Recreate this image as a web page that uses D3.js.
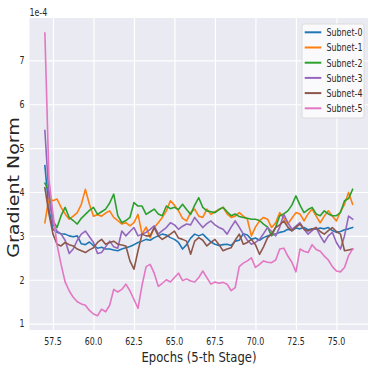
<!DOCTYPE html>
<html>
<head>
<meta charset="utf-8">
<script src="https://cdn.jsdelivr.net/npm/d3@7"></script>
<style>
  body { margin: 0; background: #fff; }
  text { font-family: "DejaVu Sans", sans-serif; fill: #262626; }
</style>
</head>
<body>
<script>
var W = 374, H = 374
var BG = '#eaeaf2'
var COLORS = ['#1f77b4', '#ff7f0e', '#2ca02c', '#9467bd', '#8c564b', '#e377c2']

var names = ['Subnet-0', 'Subnet-1', 'Subnet-2', 'Subnet-3', 'Subnet-4', 'Subnet-5']
var xTicks = [57.5, 60.0, 62.5, 65.0, 67.5, 70.0, 72.5, 75.0]
var yTicks = [1, 2, 3, 4, 5, 6, 7]

// epochs, one sample every quarter epoch
var epochs = [
  57.00, 57.25, 57.50, 57.75, 58.00, 58.25, 58.50, 58.75, 59.00, 59.25, 59.50, 59.75,
  60.00, 60.25, 60.50, 60.75, 61.00, 61.25, 61.50, 61.75, 62.00, 62.25, 62.50, 62.75,
  63.00, 63.25, 63.50, 63.75, 64.00, 64.25, 64.50, 64.75, 65.00, 65.25, 65.50, 65.75,
  66.00, 66.25, 66.50, 66.75, 67.00, 67.25, 67.50, 67.75, 68.00, 68.25, 68.50, 68.75,
  69.00, 69.25, 69.50, 69.75, 70.00, 70.25, 70.50, 70.75, 71.00, 71.25, 71.50, 71.75,
  72.00, 72.25, 72.50, 72.75, 73.00, 73.25, 73.50, 73.75, 74.00, 74.25, 74.50, 74.75,
  75.00, 75.25, 75.50, 75.75, 76.00
]

// gradient norm, in units of 1e-4
var subnet0 = [
  4.60, 3.60, 3.15, 3.08, 3.05, 3.04, 3.00, 2.98, 3.00, 2.82, 2.80, 2.86,
  2.78, 2.72, 2.74, 2.70, 2.70, 2.68, 2.66, 2.70, 2.73, 2.76, 2.80, 2.85,
  2.88, 2.92, 2.90, 2.96, 3.00, 3.04, 3.02, 2.96, 2.92, 2.85, 2.70, 2.80,
  2.95, 3.04, 3.00, 3.04, 2.95, 2.86, 2.81, 2.78, 2.80, 2.81, 2.78, 2.88,
  2.90, 3.05, 3.02, 2.92, 2.95, 2.90, 2.96, 3.00, 3.02, 3.04, 3.08, 3.10,
  3.15, 3.12, 3.18, 3.16, 3.19, 3.14, 3.16, 3.15, 3.18, 3.16, 3.19, 3.12,
  3.08, 3.10, 3.14, 3.16, 3.19
]
var subnet1 = [
  3.30, 3.87, 3.80, 3.84, 3.65, 3.50, 3.38, 3.45, 3.53, 3.72, 4.06, 3.72,
  3.45, 3.48, 3.45, 3.52, 3.57, 3.42, 3.35, 3.27, 3.30, 3.23, 3.30, 3.49,
  3.04, 3.20, 2.96, 3.19, 3.30, 3.42, 3.57, 3.80, 3.70, 3.57, 3.40, 3.34,
  3.53, 3.61, 3.45, 3.42, 3.61, 3.49, 3.55, 3.60, 3.65, 3.50, 3.42, 3.45,
  3.53, 3.45, 3.38, 3.00, 3.20, 3.34, 3.42, 3.38, 3.19, 3.30, 3.53, 3.40,
  3.27, 3.40, 3.53, 3.50, 3.34, 3.50, 3.61, 3.45, 3.30, 3.45, 3.57, 3.45,
  3.34, 3.55, 3.72, 3.99, 3.72
]
var subnet2 = [
  4.20, 4.02, 3.34, 3.19, 3.46, 3.65, 3.42, 3.35, 3.27, 3.40, 3.49, 3.58,
  3.65, 3.49, 3.55, 3.61, 3.75, 3.95, 3.46, 3.30, 3.35, 3.42, 3.76, 3.68,
  3.68, 3.49, 3.55, 3.61, 3.50, 3.46, 3.68, 3.62, 3.65, 3.60, 3.72, 3.60,
  3.49, 3.70, 3.87, 3.65, 3.57, 3.55, 3.53, 3.60, 3.65, 3.55, 3.46, 3.50,
  3.44, 3.42, 3.40, 3.38, 3.38, 3.35, 3.27, 3.20, 3.00, 3.20, 3.46, 3.50,
  3.57, 3.70, 3.91, 3.70, 3.53, 3.60, 3.65, 3.50, 3.46, 3.57, 3.50, 3.46,
  3.46, 3.53, 3.80, 3.85, 4.06
]
var subnet3 = [
  5.40, 3.90, 3.27, 3.11, 3.04, 2.90, 2.60, 2.70, 2.90, 3.04, 3.11, 2.98,
  2.85, 2.60, 2.62, 2.75, 2.88, 2.75, 2.72, 3.11, 3.00, 3.10, 3.19, 3.00,
  3.04, 3.08, 3.15, 3.23, 3.04, 3.12, 3.19, 3.30, 3.25, 3.15, 3.22, 3.27,
  3.25, 3.42, 3.30, 3.19, 3.28, 3.34, 3.25, 3.19, 3.15, 3.04, 3.20, 3.34,
  3.20, 3.04, 2.90, 2.81, 2.85, 2.92, 3.05, 3.19, 3.10, 3.00, 3.20, 3.49,
  3.30, 3.15, 3.22, 3.30, 3.15, 3.04, 3.12, 3.19, 3.00, 2.85, 3.00, 3.08,
  2.85, 2.70, 3.00, 3.45, 3.38
]
var subnet4 = [
  4.10, 3.50, 3.04, 2.81, 2.77, 2.85, 2.80, 2.77, 2.70, 2.66, 2.62, 2.68,
  2.73, 2.85, 2.92, 2.81, 2.85, 2.88, 2.81, 2.79, 2.77, 2.43, 2.24, 2.66,
  3.04, 3.00, 3.00, 3.19, 3.00, 2.92, 2.98, 3.04, 3.11, 2.95, 2.92, 2.88,
  2.58, 2.88, 2.96, 2.90, 2.77, 2.85, 2.92, 2.80, 2.66, 2.70, 2.73, 2.90,
  3.04, 2.81, 2.85, 2.92, 2.80, 2.58, 2.75, 2.96, 3.05, 3.19, 3.25, 3.34,
  3.20, 3.11, 3.20, 3.27, 3.15, 3.11, 3.15, 3.19, 3.10, 3.04, 3.12, 3.19,
  3.10, 3.04, 2.66, 2.68, 2.70
]
var subnet5 = [
  7.62, 4.30, 3.50, 2.80, 2.35, 1.95, 1.75, 1.60, 1.50, 1.45, 1.42, 1.30,
  1.22, 1.18, 1.33, 1.27, 1.42, 1.78, 1.72, 1.78, 1.90, 1.75, 1.55, 1.35,
  1.88, 2.30, 2.35, 2.15, 1.85, 1.92, 2.00, 1.95, 2.05, 2.15, 1.98, 2.02,
  1.97, 1.95, 2.05, 2.20, 2.05, 1.90, 1.95, 1.92, 1.94, 1.90, 1.75, 1.82,
  2.30, 2.38, 2.43, 2.50, 2.28, 2.35, 2.43, 2.40, 2.39, 2.45, 2.70, 2.72,
  2.54, 2.40, 2.18, 2.70, 2.65, 2.62, 2.80, 2.69, 2.65, 2.54, 2.45, 2.30,
  2.20, 2.18, 2.28, 2.55, 2.70
]
var series = [subnet0, subnet1, subnet2, subnet3, subnet4, subnet5]

var plot = { left: 29.5, right: 368, top: 18, bottom: 330 }

var svg = d3.select('body').append('svg')
  .attr('width', W)
  .attr('height', H)

var x = d3.scaleLinear().domain([56.05, 76.95]).range([plot.left, plot.right])
var y = d3.scaleLinear().domain([0.855, 7.965]).range([plot.bottom, plot.top])

// the source figure was squeezed sideways, so text is drawn narrow
function narrowText(g, tx, ty, sx, str, size, anchor){
  return g.append('g')
    .attr('transform', 'translate(' + tx + ',' + ty + ') scale(' + sx + ',1)')
    .append('text')
    .attr('font-size', size + 'px')
    .attr('text-anchor', anchor)
    .text(str)
}

svg.append('rect')
  .attr('x', plot.left).attr('y', plot.top)
  .attr('width', plot.right - plot.left)
  .attr('height', plot.bottom - plot.top)
  .attr('fill', BG)

// grid from the axes, labels drawn separately
var gx = svg.append('g')
  .attr('transform', 'translate(0,' + plot.bottom + ')')
  .call(d3.axisBottom(x).tickValues(xTicks).tickSize(-(plot.bottom - plot.top)).tickFormat(''))
var gy = svg.append('g')
  .attr('transform', 'translate(' + plot.left + ',0)')
  .call(d3.axisLeft(y).tickValues(yTicks).tickSize(-(plot.right - plot.left)).tickFormat(''))
;[gx, gy].forEach(function(g){
  g.select('.domain').remove()
  g.selectAll('.tick line').attr('stroke', '#fff').attr('stroke-width', 1.2)
})

xTicks.forEach(function(t){
  narrowText(svg, x(t), 345, 0.75, d3.format('.1f')(t), 10.5, 'middle')
})
yTicks.forEach(function(t){
  narrowText(svg, 24.5, y(t) + 3.8, 0.75, String(t), 10.5, 'end')
})
narrowText(svg, 29.5, 15.5, 0.75, '1e-4', 10.5, 'start')

narrowText(svg, 199, 362, 0.8, 'Epochs (5-th Stage)', 14.5, 'middle')

svg.append('g')
  .attr('transform', 'translate(18.5,187.5) scale(0.82,1) rotate(-90)')
  .append('text')
  .attr('font-size', '19px')
  .attr('text-anchor', 'middle')
  .text('Gradient Norm')

var line = d3.line()
  .x(function(d, i){ return x(epochs[i]) })
  .y(function(d){ return y(d) })

svg.append('g').selectAll('path')
  .data(series)
  .enter()
  .append('path')
  .attr('d', line)
  .attr('fill', 'none')
  .attr('stroke', function(d, i){ return COLORS[i] })
  .attr('stroke-width', 1.6)
  .attr('stroke-linejoin', 'round')
  .attr('stroke-linecap', 'square')

// legend
var lg = svg.append('g')
lg.append('rect')
  .attr('x', 302).attr('y', 24)
  .attr('width', 62).attr('height', 94)
  .attr('rx', 2)
  .attr('fill', '#fcfcfd')
  .attr('fill-opacity', 0.9)
  .attr('stroke', '#d6d6d6')
  .attr('stroke-width', 0.8)

names.forEach(function(n, i){
  var ly = 32.3 + i * 15.2
  lg.append('line')
    .attr('x1', 304.7).attr('x2', 321.3)
    .attr('y1', ly).attr('y2', ly)
    .attr('stroke', COLORS[i])
    .attr('stroke-width', 2)
  narrowText(lg, 326.5, ly + 3.8, 0.72, n, 11, 'start')
})
</script>
</body>
</html>
